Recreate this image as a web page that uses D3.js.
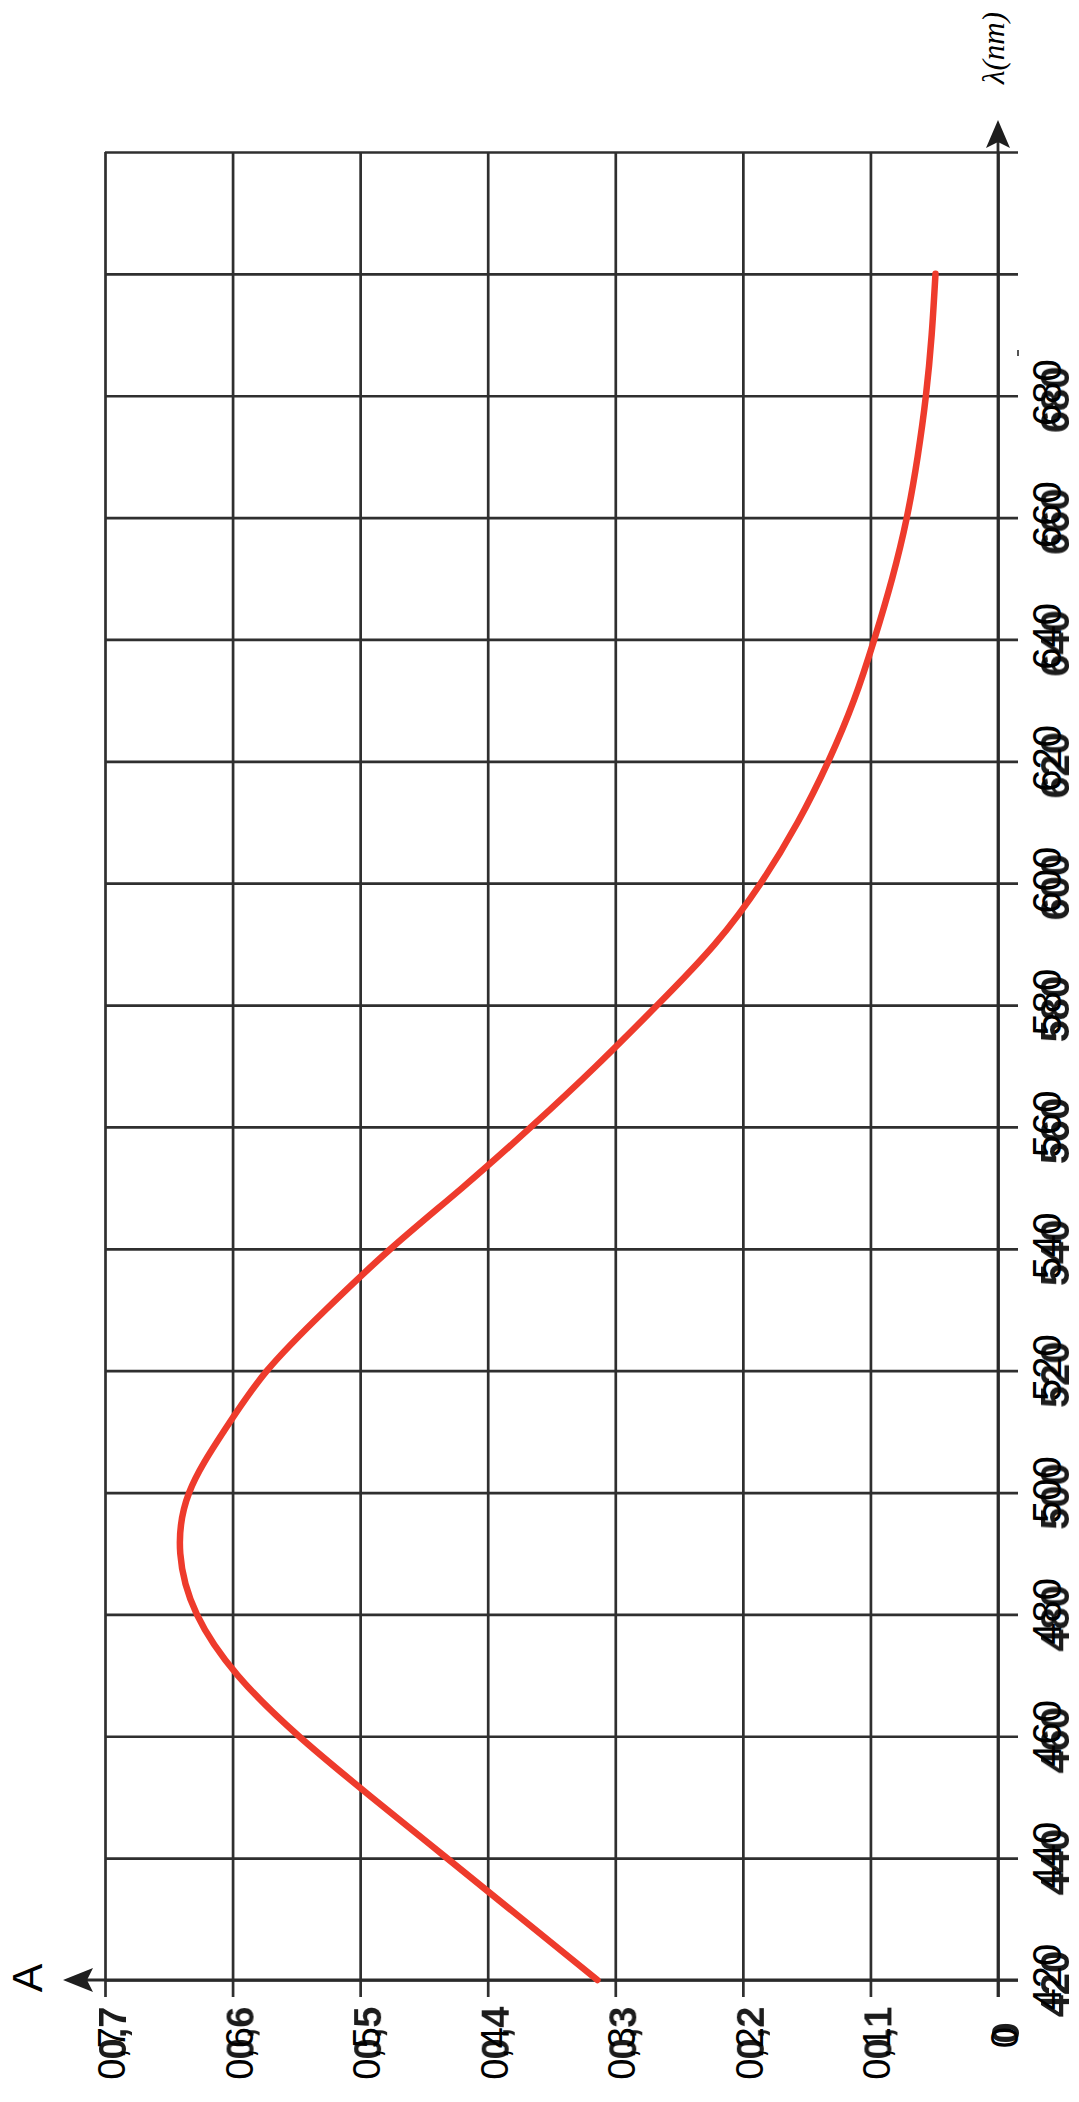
<!DOCTYPE html>
<html>
<head>
<meta charset="utf-8">
<script src="https://cdn.jsdelivr.net/npm/d3@7/dist/d3.min.js"></script>
<style>
  html, body { margin: 0; padding: 0; background: #ffffff; }
  svg { display: block; }
</style>
</head>
<body>
<script>
// ---- data ----
const wavelengths = [420, 430, 440, 450, 460, 470, 480, 490, 500, 510, 520, 530, 540, 550, 560,
                     570, 580, 590, 600, 610, 620, 630, 640, 650, 660, 670, 680, 690, 700];
const absorbance  = [0.314, 0.373, 0.432, 0.491, 0.548, 0.596, 0.628, 0.641, 0.634, 0.607, 0.573,
                     0.527, 0.476, 0.420, 0.366, 0.315, 0.267, 0.222, 0.186, 0.157, 0.133, 0.113,
                     0.097, 0.083, 0.0715, 0.063, 0.0565, 0.052, 0.049];
const aTicks = [0, 0.1, 0.2, 0.3, 0.4, 0.5, 0.6, 0.7];
const aTickLabels = ["0", "0,1", "0,2", "0,3", "0,4", "0,5", "0,6", "0,7"];
const lambdaTicks = [420, 440, 460, 480, 500, 520, 540, 560, 580, 600, 620, 640, 660, 680, 700, 720];
const lambdaLabelTicks = [420, 440, 460, 480, 500, 520, 540, 560, 580, 600, 620, 640, 660, 680];
const lambdaTickLabels = ["420", "440", "460", "480", "500", "520", "540", "560", "580", "600", "620", "640", "660", "680"];
const aTitle = "A";
const lambdaTitle = "λ(nm)";

// ---- layout ----
const W = 1079, H = 2102;
const svg = d3.select("body").append("svg").attr("width", W).attr("height", H);
svg.append("rect").attr("width", W).attr("height", H).attr("fill", "#ffffff");

const defs = svg.append("defs");
defs.append("filter").attr("id", "ghost").attr("x", "-20%").attr("y", "-20%").attr("width", "140%").attr("height", "140%")
  .append("feGaussianBlur").attr("stdDeviation", 0.6);

// A runs right->left, lambda runs bottom->top (rotated chart)
const xA = d3.scaleLinear().domain([0, 0.7]).range([998, 105]);
const yL = d3.scaleLinear().domain([420, 720]).range([1980, 152]);

const gridColor = "#2f2f2f";
const gridW = 2.7;

// vertical grid (A values)
const gV = svg.append("g").attr("transform", "translate(0,1997)")
  .call(d3.axisTop(xA).tickValues(aTicks).tickSize(1997 - 152).tickFormat(""));
gV.select(".domain").remove();
gV.selectAll("line").attr("stroke", gridColor).attr("stroke-width", gridW);

// horizontal grid (lambda values)
const gH = svg.append("g").attr("transform", "translate(1018,0)")
  .call(d3.axisLeft(yL).tickValues(lambdaTicks).tickSize(1018 - xA(0.7)).tickFormat(""));
gH.select(".domain").remove();
gH.selectAll("line").attr("stroke", gridColor).attr("stroke-width", gridW);

// main axes extended with arrows
const axisColor = "#2a2a2a";
svg.append("line").attr("x1", xA(0)).attr("x2", xA(0)).attr("y1", 1997).attr("y2", 140)
  .attr("stroke", axisColor).attr("stroke-width", 2.8);
svg.append("line").attr("x1", 1018).attr("x2", 80).attr("y1", yL(420)).attr("y2", yL(420))
  .attr("stroke", axisColor).attr("stroke-width", 2.8);
const ax0 = xA(0);
svg.append("path").attr("d", `M${ax0},120 L${ax0 - 12},148 L${ax0},142 L${ax0 + 12},148 Z`).attr("fill", "#1e1e1e");
const ay0 = yL(420);
svg.append("path").attr("d", `M63,${ay0} L93,${ay0 - 12} L87,${ay0} L93,${ay0 + 12} Z`).attr("fill", "#1e1e1e");

// small stray dash
svg.append("rect").attr("x", 1017).attr("y", 350).attr("width", 2).attr("height", 6).attr("fill", "#555");

// ---- curve ----
const pts = wavelengths.map((w, i) => [w, absorbance[i]]);
const line = d3.line()
  .x(d => xA(d[1]))
  .y(d => yL(d[0]))
  .curve(d3.curveNatural);
svg.append("path").datum(pts).attr("d", line)
  .attr("fill", "none").attr("stroke", "#ee3b2c").attr("stroke-width", 6.5)
  .attr("stroke-linecap", "round").attr("stroke-linejoin", "round");

// ---- tick labels ----
const font = "'Liberation Sans', Arial, sans-serif";

const aLab = svg.append("g");
aLab.selectAll("text.ghost").data(aTicks).join("text").attr("class", "ghost")
  .attr("transform", d => `translate(${xA(d) + 21},2033) rotate(-90)`)
  .attr("text-anchor", "middle").attr("font-family", font).attr("font-size", 38)
  .attr("font-weight", "bold").attr("fill", "#1a1a1a").attr("filter", "url(#ghost)")
  .text((d, i) => aTickLabels[i]);
aLab.selectAll("text.crisp").data(aTicks).join("text").attr("class", "crisp")
  .attr("transform", d => `translate(${xA(d) + 20},2027) rotate(-90)`)
  .attr("text-anchor", "end").attr("font-family", font).attr("font-size", 38)
  .attr("fill", "#000").text((d, i) => aTickLabels[i]);

const lLab = svg.append("g");
lLab.selectAll("text.ghost").data(lambdaLabelTicks).join("text").attr("class", "ghost")
  .attr("transform", d => `translate(1069,${yL(d) + 4}) rotate(-90)`)
  .attr("text-anchor", "middle").attr("font-family", font).attr("font-size", 40)
  .attr("font-weight", "bold").attr("fill", "#1a1a1a").attr("filter", "url(#ghost)")
  .text((d, i) => lambdaTickLabels[i]);
lLab.selectAll("text.crisp").data(lambdaLabelTicks).join("text").attr("class", "crisp")
  .attr("transform", d => `translate(1061,${yL(d) - 3}) rotate(-90)`)
  .attr("text-anchor", "middle").attr("font-family", font).attr("font-size", 40)
  .attr("fill", "#000").text((d, i) => lambdaTickLabels[i]);

// ---- axis titles ----
svg.append("text").attr("transform", "translate(42,1978) rotate(-90)")
  .attr("text-anchor", "middle").attr("font-family", font).attr("font-size", 43)
  .attr("fill", "#000").text(aTitle);
svg.append("text").attr("transform", "translate(1004,48) rotate(-90)")
  .attr("text-anchor", "middle").attr("font-family", "'Liberation Serif', 'DejaVu Serif', serif")
  .attr("font-style", "italic").attr("font-size", 31)
  .attr("fill", "#000").text(lambdaTitle);
</script>
</body>
</html>
